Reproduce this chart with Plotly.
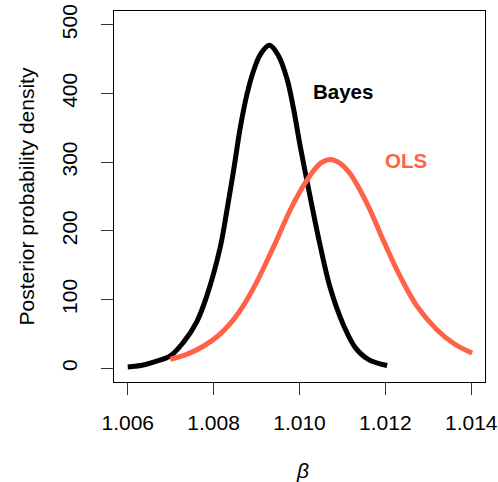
import plotly.graph_objects as go

# Bayes posterior density
beta_bayes = [1.00600, 1.00630, 1.00660, 1.00699, 1.00730, 1.00761, 1.00784, 1.00815,
              1.00831, 1.00847, 1.00862, 1.00877, 1.00893, 1.00909, 1.00930, 1.00951,
              1.00971, 1.00986, 1.01002, 1.01025, 1.01048, 1.01072, 1.01103, 1.01130,
              1.01160, 1.01204]
dens_bayes = [2, 4, 9, 18, 38, 68, 105, 175,
              230, 290, 350, 397, 433, 457, 470, 455,
              421, 378, 322, 249, 179, 116, 62, 30,
              13, 4]

# OLS density
beta_ols = [1.00699, 1.00740, 1.00776, 1.00810, 1.00840, 1.00870, 1.00900, 1.00939,
            1.00978, 1.01002, 1.01025, 1.01050, 1.01072, 1.01095, 1.01118, 1.01157,
            1.01196, 1.01235, 1.01274, 1.01320, 1.01359, 1.01402]
dens_ols = [13, 21, 32, 47, 66, 92, 125, 176,
            230, 258, 281, 299, 304, 298, 283, 240,
            185, 133, 90, 56, 36, 22]

x_ticks = [1.006, 1.008, 1.010, 1.012, 1.014]
x_tick_labels = ["1.006", "1.008", "1.010", "1.012", "1.014"]
y_ticks = [0, 100, 200, 300, 400, 500]
y_tick_labels = ["0", "100", "200", "300", "400", "500"]

series_labels = ["Bayes", "OLS"]
label_x = [1.01101, 1.01248]
label_y = [403, 303]

BLACK = "#000000"
RED = "#FF6347"
FONT = "Liberation Sans, Arial, sans-serif"

fig = go.Figure()
fig.add_trace(go.Scatter(x=beta_bayes, y=dens_bayes, mode="lines",
                         line=dict(color=BLACK, width=5, shape="spline", smoothing=1.0),
                         showlegend=False))
fig.add_trace(go.Scatter(x=beta_ols, y=dens_ols, mode="lines",
                         line=dict(color=RED, width=5, shape="spline", smoothing=1.0),
                         showlegend=False))

for txt, xx, yy, col in zip(series_labels, label_x, label_y, [BLACK, RED]):
    fig.add_annotation(x=xx, y=yy, xref="x", yref="y", text=f"<b>{txt}</b>",
                       showarrow=False, font=dict(family=FONT, size=20.5, color=col),
                       xanchor="center", yanchor="middle")

fig.add_annotation(x=(26 - 114) / 371, y=0.5, xref="paper", yref="paper",
                   text="Posterior probability density", textangle=-90,
                   showarrow=False, font=dict(family=FONT, size=21, color="black"),
                   xanchor="center", yanchor="middle")
fig.add_annotation(x=(302 - 114) / 371, y=(381.7 - 470) / 370.7, xref="paper", yref="paper",
                   text="<i>β</i>", showarrow=False,
                   font=dict(family=FONT, size=21, color="black"),
                   xanchor="center", yanchor="middle")

axis_common = dict(showgrid=False, zeroline=False, showline=True, mirror=True,
                   linecolor="black", linewidth=1, ticks="outside", ticklen=12,
                   tickwidth=1, tickcolor="#333333", automargin=False,
                   tickfont=dict(family=FONT, size=21, color="black"))

fig.update_xaxes(range=[1.00568, 1.01432], tickvals=x_ticks, ticktext=x_tick_labels,
                 ticklabelstandoff=10, **axis_common)
fig.update_yaxes(range=[-20, 520], tickvals=y_ticks, ticktext=y_tick_labels,
                 tickangle=-90, ticklabelstandoff=16, **axis_common)

fig.update_layout(width=498, height=482, margin=dict(l=114, r=13, t=11, b=100, autoexpand=False),
                  paper_bgcolor="white", plot_bgcolor="white",
                  font=dict(family=FONT, color="black"))

fig.write_html("out.html", config={"displayModeBar": False},
               post_script="document.body.style.margin='0';")
